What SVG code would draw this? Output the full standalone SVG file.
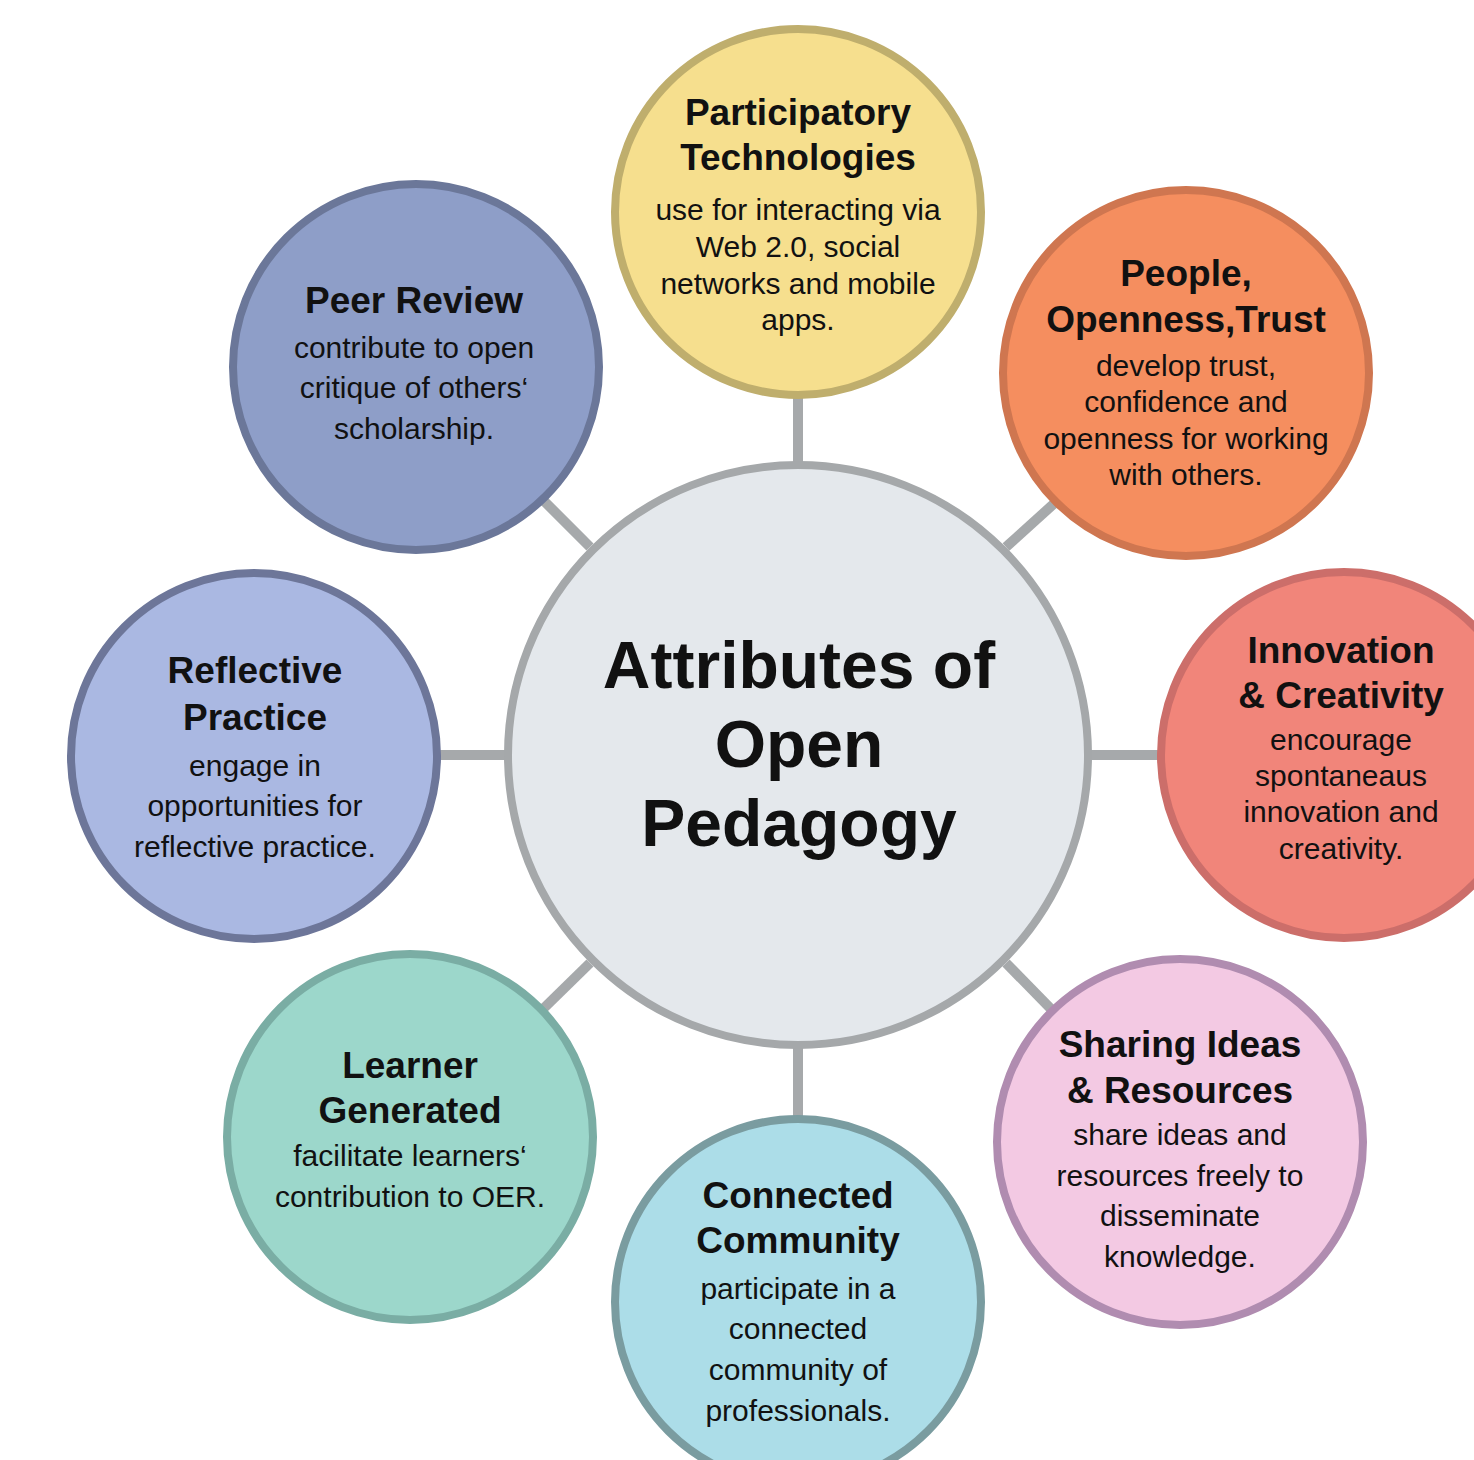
<svg xmlns="http://www.w3.org/2000/svg" width="1474" height="1460" viewBox="0 0 1474 1460">
<style>
text{font-family:"Liberation Sans",Arial,sans-serif;fill:#111;text-anchor:middle}
.t{font-size:37px;font-weight:bold}
.b{font-size:30px}
.c{font-size:66px;font-weight:bold}
.n{stroke-width:8}
.lk{stroke:#a6a9ab;stroke-width:10;fill:none}
</style>
<rect width="1474" height="1460" fill="#ffffff"/>
<g id="connectors">
<line class="lk" x1="798" y1="396" x2="798" y2="466"/>
<line class="lk" x1="798" y1="1044" x2="798" y2="1118"/>
<line class="lk" x1="438" y1="755" x2="508" y2="755"/>
<line class="lk" x1="1088" y1="755" x2="1160" y2="755"/>
<line class="lk" x1="1006" y1="547" x2="1058" y2="500"/>
<line class="lk" x1="590" y1="547" x2="544" y2="501"/>
<line class="lk" x1="590" y1="963" x2="544" y2="1008"/>
<line class="lk" x1="1006" y1="963" x2="1052" y2="1010"/>
</g>
<g id="center">
<circle class="n" cx="798" cy="755" r="290" fill="#e4e8ec" stroke="#a5a8aa"/>
<text class="c" x="799" y="688">Attributes of</text>
<text class="c" x="799" y="767">Open</text>
<text class="c" x="799" y="846">Pedagogy</text>
</g>
<g id="participatory">
<circle class="n" cx="798" cy="212" r="183" fill="#f6df8e" stroke="#bfae6d"/>
<text class="t" x="798" y="125">Participatory</text>
<text class="t" x="798" y="170">Technologies</text>
<text class="b" x="798" y="220">use for interacting via</text>
<text class="b" x="798" y="257">Web 2.0, social</text>
<text class="b" x="798" y="294">networks and mobile</text>
<text class="b" x="798" y="330">apps.</text>
</g>
<g id="people">
<circle class="n" cx="1186" cy="373" r="183" fill="#f58e5f" stroke="#cf7650"/>
<text class="t" x="1186" y="286">People,</text>
<text class="t" x="1186" y="332">Openness,Trust</text>
<text class="b" x="1186" y="376">develop trust,</text>
<text class="b" x="1186" y="412">confidence and</text>
<text class="b" x="1186" y="449">openness for working</text>
<text class="b" x="1186" y="485">with others.</text>
</g>
<g id="innovation">
<circle class="n" cx="1344" cy="755" r="183" fill="#f1857a" stroke="#cc6e6a"/>
<text class="t" x="1341" y="663">Innovation</text>
<text class="t" x="1341" y="708">&amp; Creativity</text>
<text class="b" x="1341" y="750">encourage</text>
<text class="b" x="1341" y="786">spontaneaus</text>
<text class="b" x="1341" y="822">innovation and</text>
<text class="b" x="1341" y="859">creativity.</text>
</g>
<g id="sharing">
<circle class="n" cx="1180" cy="1142" r="183" fill="#f3c9e3" stroke="#b08cb0"/>
<text class="t" x="1180" y="1057">Sharing Ideas</text>
<text class="t" x="1180" y="1103">&amp; Resources</text>
<text class="b" x="1180" y="1145">share ideas and</text>
<text class="b" x="1180" y="1186">resources freely to</text>
<text class="b" x="1180" y="1226">disseminate</text>
<text class="b" x="1180" y="1267">knowledge.</text>
</g>
<g id="connected">
<circle class="n" cx="798" cy="1302" r="183" fill="#acdde8" stroke="#7a9ca0"/>
<text class="t" x="798" y="1208">Connected</text>
<text class="t" x="798" y="1253">Community</text>
<text class="b" x="798" y="1299">participate in a</text>
<text class="b" x="798" y="1339">connected</text>
<text class="b" x="798" y="1380">community of</text>
<text class="b" x="798" y="1421">professionals.</text>
</g>
<g id="learner">
<circle class="n" cx="410" cy="1137" r="183" fill="#9cd7cb" stroke="#7aada4"/>
<text class="t" x="410" y="1078">Learner</text>
<text class="t" x="410" y="1123">Generated</text>
<text class="b" x="410" y="1166">facilitate learners‘</text>
<text class="b" x="410" y="1207">contribution to OER.</text>
</g>
<g id="reflective">
<circle class="n" cx="254" cy="756" r="183" fill="#aab8e2" stroke="#6d7699"/>
<text class="t" x="255" y="683">Reflective</text>
<text class="t" x="255" y="730">Practice</text>
<text class="b" x="255" y="776">engage in</text>
<text class="b" x="255" y="816">opportunities for</text>
<text class="b" x="255" y="857">reflective practice.</text>
</g>
<g id="peer">
<circle class="n" cx="416" cy="367" r="183" fill="#8e9ec8" stroke="#6b7799"/>
<text class="t" x="414" y="313">Peer Review</text>
<text class="b" x="414" y="358">contribute to open</text>
<text class="b" x="414" y="398">critique of others‘</text>
<text class="b" x="414" y="439">scholarship.</text>
</g>
</svg>
